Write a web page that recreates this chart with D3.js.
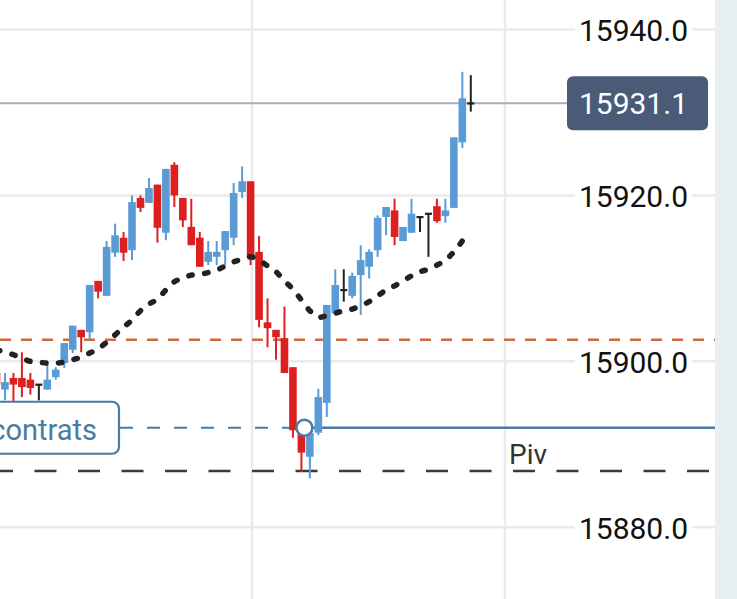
<!DOCTYPE html>
<html lang="en">
<head>
    <meta charset="UTF-8">
    <title>Candles</title>
    <script src="https://d3js.org/d3.v7.min.js"></script>
    <style>
        body { margin: 0; background: #fff; }
        svg { display: block; font-family: Roboto, "Noto Sans", sans-serif; }
        .axis .domain { display: none; }
    </style>
</head>
<body>
    <svg id="chart" width="737" height="599"></svg>
    <script>
        // OHLC, oldest first
        const opens  = [15898.6, 15896.6, 15898.0, 15898.0, 15897.8, 15897.2, 15896.6, 15898.1, 15899.8, 15901.4,
                        15903.8, 15903.5, 15909.7, 15907.9, 15913.1, 15914.9, 15913.4, 15919.7, 15919.1, 15921.3,
                        15915.5, 15923.7, 15919.7, 15916.2, 15914.9, 15912.0, 15912.6, 15913.4, 15914.9, 15920.4,
                        15921.7, 15913.2, 15904.7, 15903.8, 15902.8, 15899.3, 15891.4, 15888.5, 15891.4, 15895.0,
                        15905.8, 15908.6, 15907.9, 15910.4, 15911.4, 15913.4, 15917.4, 15918.2, 15914.5, 15915.5,
                        15917.4, 15917.8, 15918.7, 15917.5, 15918.5, 15926.4, 15931.1];
        const highs  = [15899.0, 15898.6, 15898.6, 15901.1, 15898.6, 15897.2, 15899.9, 15899.3, 15902.2, 15904.3,
                        15903.8, 15909.2, 15909.7, 15914.5, 15916.6, 15915.6, 15920.0, 15920.0, 15922.1, 15921.3,
                        15923.2, 15924.0, 15919.7, 15919.6, 15915.6, 15914.5, 15914.5, 15915.7, 15921.5, 15923.5,
                        15921.7, 15915.1, 15907.6, 15903.8, 15906.6, 15899.3, 15891.4, 15892.1, 15896.7, 15906.8,
                        15911.1, 15911.1, 15910.7, 15914.0, 15913.5, 15917.6, 15918.6, 15919.6, 15916.2, 15919.6,
                        15917.4, 15917.8, 15919.6, 15919.6, 15927.0, 15934.9, 15934.5];
        const lows   = [15896.0, 15895.3, 15895.1, 15895.7, 15896.0, 15895.3, 15896.6, 15897.8, 15899.2, 15901.0,
                        15901.1, 15902.6, 15907.6, 15907.9, 15912.6, 15912.1, 15912.2, 15918.0, 15919.1, 15914.3,
                        15914.6, 15918.6, 15916.2, 15914.0, 15911.4, 15911.6, 15911.6, 15911.6, 15914.0, 15919.7,
                        15911.6, 15904.1, 15901.7, 15900.2, 15898.6, 15890.8, 15886.7, 15885.9, 15891.1, 15893.3,
                        15905.8, 15907.2, 15907.6, 15905.6, 15910.0, 15912.6, 15915.2, 15914.0, 15914.5, 15915.5,
                        15915.6, 15912.6, 15916.7, 15916.7, 15918.5, 15925.7, 15930.1];
        const closes = [15897.2, 15897.5, 15897.2, 15896.9, 15896.8, 15897.2, 15897.8, 15899.0, 15902.2, 15904.3,
                        15902.9, 15909.2, 15908.4, 15913.8, 15915.2, 15913.1, 15919.2, 15918.5, 15920.9, 15916.1,
                        15923.2, 15920.0, 15917.0, 15914.0, 15911.4, 15913.2, 15913.2, 15915.7, 15920.3, 15921.7,
                        15912.6, 15905.0, 15904.0, 15902.9, 15898.6, 15891.7, 15889.0, 15891.4, 15895.7, 15906.8,
                        15909.2, 15908.6, 15910.3, 15912.2, 15913.2, 15917.3, 15918.6, 15915.0, 15916.2, 15917.8,
                        15917.4, 15917.8, 15916.9, 15918.2, 15927.0, 15931.7, 15931.1];

        // dotted average line, one value per candle (none on the last one)
        const maValues = [15901.4, 15901.1, 15900.8, 15900.4, 15900.0, 15899.9, 15899.8, 15899.8, 15899.9, 15900.2,
                          15900.5, 15901.0, 15901.5, 15902.3, 15903.2, 15904.1, 15905.0, 15906.1, 15906.9, 15907.5,
                          15908.6, 15909.6, 15910.0, 15910.4, 15910.5, 15910.7, 15911.0, 15911.5, 15912.0, 15912.3,
                          15912.6, 15912.2, 15911.5, 15910.8, 15909.7, 15908.7, 15907.4, 15906.1, 15905.3, 15905.5,
                          15905.8, 15906.1, 15906.3, 15906.7, 15907.2, 15907.9, 15908.6, 15909.1, 15909.7, 15910.3,
                          15910.8, 15911.1, 15911.6, 15912.2, 15913.2, 15914.5];

        const yTicks = [15880, 15900, 15920, 15940];
        const lastPrice = 15931.1;
        const orangeLevel = 15902.6;
        const orderLevel = 15892.0;
        const pivLevel = 15886.8;
        const orderLabel = "contrats";
        const pivLabel = "Piv";

        const candles = opens.map((o, i) => ({i, o, h: highs[i], l: lows[i], c: closes[i]}));

        const svg = d3.select("#chart");
        const W = 737, H = 599;
        const plotRight = 715;

        const x = d3.scaleLinear().domain([0, candles.length - 1]).range([-3.5, 470.8]);
        const y = d3.scaleLinear().domain([15880, 15940]).range([527.3, 29.5]);

        const blue = "#5b9bd5", red = "#dd1f1f", dark = "#222";
        const colour = d => d.c > d.o ? blue : (d.c < d.o ? red : dark);

        // right side panel
        svg.append("rect").attr("x", plotRight).attr("y", 0).attr("width", W - plotRight).attr("height", H)
            .attr("fill", "#e8eff2");

        // grid
        const grid = svg.append("g");
        grid.selectAll("line.h").data(yTicks).join("line")
            .attr("x1", 0).attr("x2", plotRight)
            .attr("y1", d => y(d)).attr("y2", d => y(d))
            .attr("stroke", "#ebebeb").attr("stroke-width", 2.5);
        grid.selectAll("line.v").data([252, 505]).join("line")
            .attr("x1", d => d).attr("x2", d => d)
            .attr("y1", 0).attr("y2", H)
            .attr("stroke", "#ebebeb").attr("stroke-width", 2.5);

        // axis labels
        const axis = svg.append("g").attr("class", "axis").attr("transform", "translate(688,0)")
            .call(d3.axisLeft(y).tickValues(yTicks).tickFormat(d3.format(".1f")).tickSize(0).tickPadding(0));
        axis.selectAll("text").attr("font-size", 30).attr("font-family", "Roboto").attr("fill", "#111").attr("dy", "0.38em")
            .each(function() {
                const b = this.getBBox();
                d3.select(this.parentNode).insert("rect", "text")
                    .attr("x", b.x - 4).attr("y", -4).attr("width", b.width + 8).attr("height", 8)
                    .attr("fill", "#fff");
            });

        // horizontal levels
        const levels = svg.append("g");
        levels.append("line")
            .attr("x1", 0).attr("x2", plotRight).attr("y1", y(orangeLevel)).attr("y2", y(orangeLevel))
            .attr("stroke", "#d2693c").attr("stroke-width", 2.5).attr("stroke-dasharray", "11 10");
        levels.append("line")
            .attr("x1", 0).attr("x2", plotRight).attr("y1", y(pivLevel)).attr("y2", y(pivLevel))
            .attr("stroke", "#3a3a3a").attr("stroke-width", 2.5).attr("stroke-dasharray", "22 21.5")
            .attr("stroke-dashoffset", 9);
        levels.append("line")
            .attr("x1", 120).attr("x2", x(36) + 3).attr("y1", y(orderLevel)).attr("y2", y(orderLevel))
            .attr("stroke", "#4a7ba3").attr("stroke-width", 2).attr("stroke-dasharray", "13 14");
        levels.append("line")
            .attr("x1", x(36) + 3).attr("x2", plotRight).attr("y1", y(orderLevel)).attr("y2", y(orderLevel))
            .attr("stroke", "#4a7ba3").attr("stroke-width", 2.5);
        levels.append("line")
            .attr("x1", 0).attr("x2", 567).attr("y1", y(lastPrice)).attr("y2", y(lastPrice))
            .attr("stroke", "#a6aeb9").attr("stroke-width", 2);

        levels.append("text")
            .attr("x", 509).attr("y", y(pivLevel) - 7)
            .attr("font-size", 28).attr("fill", "#333")
            .text(pivLabel);

        // candles
        const cg = svg.append("g");
        const bodyW = 7.6;
        cg.selectAll("line.wick").data(candles).join("line")
            .attr("x1", d => x(d.i)).attr("x2", d => x(d.i))
            .attr("y1", d => y(d.h)).attr("y2", d => y(d.l))
            .attr("stroke", colour).attr("stroke-width", 2);
        cg.selectAll("rect.body").data(candles).join("rect")
            .attr("x", d => d.c === d.o ? x(d.i) - 3.5 : x(d.i) - bodyW / 2)
            .attr("width", d => d.c === d.o ? 7 : bodyW)
            .attr("y", d => d.c === d.o ? y(d.o) - 1 : y(Math.max(d.o, d.c)))
            .attr("height", d => d.c === d.o ? 2.2 : Math.max(1.5, Math.abs(y(d.o) - y(d.c))))
            .attr("fill", colour);

        // dotted average
        const maLine = d3.line().x((d, i) => x(i)).y(d => y(d)).curve(d3.curveMonotoneX);
        svg.append("path")
            .attr("d", maLine(maValues))
            .attr("fill", "none").attr("stroke", dark).attr("stroke-width", 5.5)
            .attr("stroke-linecap", "round").attr("stroke-dasharray", "3.5 12.5");

        // order label
        svg.append("rect")
            .attr("x", -20).attr("y", y(orderLevel) - 26).attr("width", 139).attr("height", 52).attr("rx", 7)
            .attr("fill", "#fff").attr("stroke", "#4a7ba3").attr("stroke-width", 2.2);
        svg.append("text")
            .attr("x", 97).attr("y", y(orderLevel) + 12).attr("text-anchor", "end")
            .attr("font-size", 29).attr("fill", "#4a7ba3")
            .text(orderLabel);

        svg.append("circle")
            .attr("cx", x(36) + 3).attr("cy", y(orderLevel)).attr("r", 8)
            .attr("fill", "#fff").attr("stroke", "#4a7ba3").attr("stroke-width", 2.5);

        // last price tag
        const tag = svg.append("g").attr("transform", `translate(567,${y(lastPrice)})`);
        tag.append("rect").attr("x", 0).attr("y", -27).attr("width", 141).attr("height", 54).attr("rx", 6)
            .attr("fill", "#4a5b78");
        tag.append("text").attr("x", 121).attr("y", 11).attr("text-anchor", "end")
            .attr("font-size", 30).attr("fill", "#fff")
            .text(d3.format(".1f")(lastPrice));
    </script>
</body>
</html>
